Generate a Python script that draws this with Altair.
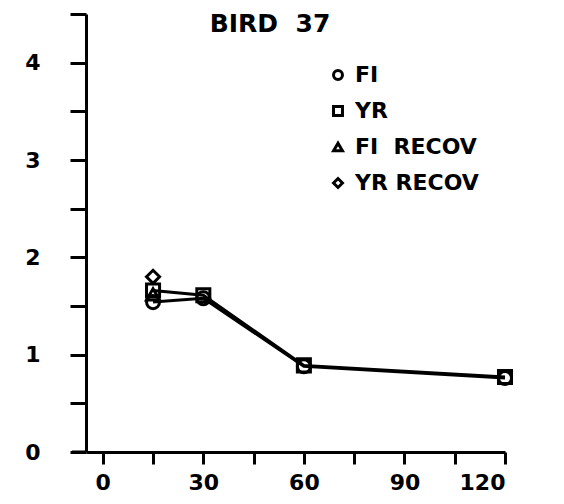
import altair as alt
import pandas as pd

# ---- data ----
times = [15, 30, 60, 120]
fi_vals = [1.54, 1.58, 0.88, 0.76]
yr_vals = [1.66, 1.61, 0.89, 0.77]
fi_recov_time = [15]
fi_recov_vals = [1.62]
yr_recov_time = [15]
yr_recov_vals = [1.80]

series_names = ["FI", "YR", "FI\u00a0\u00a0RECOV", "YR RECOV"]
series_shapes = ["circle", "square", "triangle-up", "diamond"]
title_text = "BIRD\u00a0\u00a037"

x_ticks = [0, 15, 30, 45, 60, 75, 90, 105, 120]
y_ticks = [0, 0.5, 1, 1.5, 2, 2.5, 3, 3.5, 4, 4.5]

rows = []
for t, v in zip(times, fi_vals):
    rows.append({"t": t, "v": v, "s": series_names[0]})
for t, v in zip(times, yr_vals):
    rows.append({"t": t, "v": v, "s": series_names[1]})
for t, v in zip(fi_recov_time, fi_recov_vals):
    rows.append({"t": t, "v": v, "s": series_names[2]})
for t, v in zip(yr_recov_time, yr_recov_vals):
    rows.append({"t": t, "v": v, "s": series_names[3]})
df = pd.DataFrame(rows)

W, H = 419, 438
FONT = "DejaVu Sans"

x_enc = alt.X(
    "t:Q",
    scale=alt.Scale(domain=[-5, 120], nice=False, zero=False),
    axis=alt.Axis(
        values=x_ticks,
        labelExpr="datum.value % 30 == 0 ? format(datum.value, 'd') : ''",
        title=None,
        grid=False,
        tickSize=12,
        labelPadding=8,
    ),
)
y_enc = alt.Y(
    "v:Q",
    scale=alt.Scale(domain=[0, 4.5], nice=False),
    axis=alt.Axis(
        values=y_ticks,
        labelExpr="datum.value % 1 == 0 ? format(datum.value, 'd') : ''",
        title=None,
        grid=False,
        tickSize=16,
        labelPadding=30,
    ),
)

base = alt.Chart(df)

lines = base.mark_line(color="black", strokeWidth=3).encode(
    x=x_enc, y=y_enc, detail="s:N"
)

points = base.mark_point(
    filled=False, color="black", strokeWidth=3, size=170, opacity=1
).encode(
    x=x_enc,
    y=y_enc,
    shape=alt.Shape(
        "s:N",
        scale=alt.Scale(domain=series_names, range=series_shapes),
        legend=alt.Legend(
            title=None,
            orient="none",
            legendX=241,
            legendY=50,
            padding=0,
            labelFontSize=22,
            labelFont=FONT,
            labelFontWeight="bold",
            labelColor="black",
            labelOffset=6,
            rowPadding=14,
            symbolSize=80,
            symbolStrokeWidth=3,
            symbolStrokeColor="black",
            symbolFillColor="white",
        ),
    ),
)

axis_ext = alt.Chart(pd.DataFrame({"a": [0]})).mark_rule(
    color="black", strokeWidth=3
).encode(x=alt.value(-14), x2=alt.value(0), y=alt.value(H))

title_mark = alt.Chart(pd.DataFrame({"label": [title_text]})).mark_text(
    font=FONT, fontSize=25, fontWeight="bold", color="black",
    align="center", baseline="middle"
).encode(text="label:N", x=alt.value(184), y=alt.value(10))

chart = (
    alt.layer(lines, points, axis_ext, title_mark)
    .properties(
        width=W,
        height=H,
        autosize=alt.AutoSizeParams(type="none"),
        padding={"left": 78, "top": 6, "right": 51, "bottom": 44},
    )
    .configure_view(stroke=None)
    .configure_axis(
        domainColor="black",
        domainWidth=3,
        tickColor="black",
        tickWidth=3,
        labelColor="black",
        labelFont=FONT,
        labelFontSize=22,
        labelFontWeight="bold",
    )
)

chart.save("out.html", embed_options={"renderer": "svg", "actions": False})
